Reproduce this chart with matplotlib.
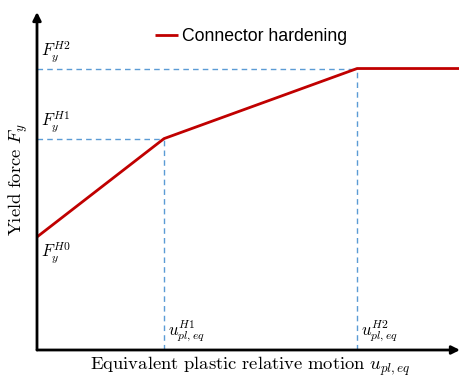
import matplotlib
matplotlib.use("Agg")
import matplotlib.pyplot as plt

plt.rcParams["mathtext.fontset"] = "cm"

# Piecewise-linear hardening curve (normalised units)
u_points = [0.0, 1.0, 2.52, 3.33]
f_points = [1.0, 1.87, 2.49, 2.49]
u_h1, u_h2 = 1.0, 2.52
f_h0, f_h1, f_h2 = 1.0, 1.87, 2.49
x_max, y_max = 3.33, 2.99

fig = plt.figure(figsize=(4.6, 3.78), dpi=100)
ax = fig.add_axes([37 / 460, 28 / 378, 423 / 460, 338 / 378])
ax.set_xlim(0, x_max)
ax.set_ylim(0, y_max)
for s in ax.spines.values():
    s.set_visible(False)
ax.set_xticks([])
ax.set_yticks([])

# Axes with arrow heads
ax.annotate("", xy=(0, 1.0), xytext=(0, 0), xycoords="axes fraction",
            arrowprops=dict(arrowstyle="-|>", color="black", lw=2,
                            mutation_scale=12, shrinkA=0, shrinkB=0),
            annotation_clip=False)
ax.annotate("", xy=(1.0, 0), xytext=(0, 0), xycoords="axes fraction",
            arrowprops=dict(arrowstyle="-|>", color="black", lw=2,
                            mutation_scale=12, shrinkA=0, shrinkB=0),
            annotation_clip=False)

# Reference guides
dash = dict(color="#5b9bd5", lw=1.0, ls=(0, (4, 3)))
ax.plot([0, u_h2], [f_h2, f_h2], **dash)
ax.plot([0, u_h1], [f_h1, f_h1], **dash)
ax.plot([u_h1, u_h1], [0, f_h1], **dash)
ax.plot([u_h2, u_h2], [0, f_h2], **dash)

ax.plot(u_points, f_points, color="#c00000", lw=2, label="Connector hardening",
        solid_capstyle="butt", clip_on=False)

leg = ax.legend(loc="upper center", bbox_to_anchor=(0.506, 1.0), frameon=False,
                handlelength=1.3, handletextpad=0.25,
                prop={"family": "Liberation Sans", "size": 12.7})

fs = 12
ax.text(0.03, f_h2 + 0.04, r"$F_y^{H2}$", fontsize=fs, va="bottom", ha="left")
ax.text(0.03, f_h1 + 0.04, r"$F_y^{H1}$", fontsize=fs, va="bottom", ha="left")
ax.text(0.03, f_h0 - 0.03, r"$F_y^{H0}$", fontsize=fs, va="top", ha="left")
ax.text(u_h1 + 0.03, 0.05, r"$u_{pl,eq}^{H1}$", fontsize=fs, va="bottom", ha="left")
ax.text(u_h2 + 0.03, 0.05, r"$u_{pl,eq}^{H2}$", fontsize=fs, va="bottom", ha="left")

fig.text(250 / 460, 1 - 366 / 378,
         r"$\mathrm{Equivalent\ plastic\ relative\ motion}\ u_{pl,eq}$",
         fontsize=13.4, ha="center", va="center")
fig.text(18 / 460, 1 - 180 / 378, r"$\mathrm{Yield\ force}\ F_y$",
         fontsize=13.4, ha="center", va="center", rotation=90)

fig.savefig("out.png", dpi=100)
